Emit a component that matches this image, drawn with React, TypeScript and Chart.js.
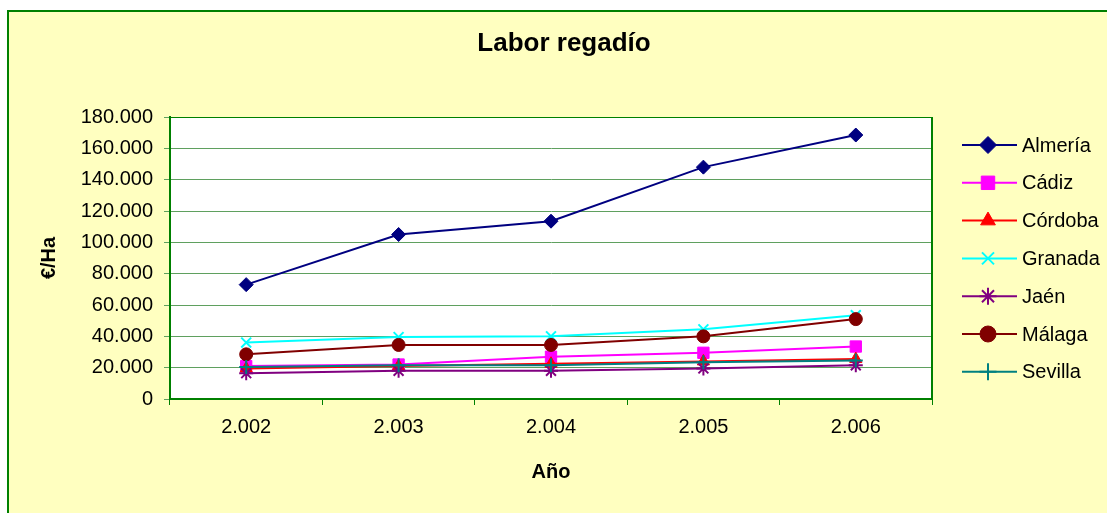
import React, { useEffect, useRef } from "react";
import { Chart, registerables } from "chart.js";
import { drawPoint } from "chart.js/helpers";

Chart.register(...registerables);

const years = ["2.002", "2.003", "2.004", "2.005", "2.006"];
const almeria = [73000, 105000, 113500, 148000, 168500];
const cadiz = [21000, 22000, 27000, 29500, 33500];
const cordoba = [19500, 21000, 22500, 24000, 25500];
const granada = [36000, 39500, 40000, 44500, 53500];
const jaen = [16500, 18000, 18000, 19500, 21500];
const malaga = [28500, 34500, 34500, 40000, 51000];
const sevilla = [20500, 21500, 21500, 23500, 24500];

const seriesNames = ["Almería", "Cádiz", "Córdoba", "Granada", "Jaén", "Málaga", "Sevilla"];
const seriesValues = [almeria, cadiz, cordoba, granada, jaen, malaga, sevilla];
const seriesColors = ["#000080", "#FF00FF", "#FF0000", "#00FFFF", "#800080", "#800000", "#008080"];
const seriesMarkers = ["rectRot", "rect", "triangle", "crossRot", "star", "circle", "cross"];
const markerSizes = [7, 8, 7, 7, 7, 6.5, 7];

const chartTitle = "Labor regadío";
const yTitle = "€/Ha";
const xTitle = "Año";
const FONT = "'Liberation Sans', Arial, sans-serif";

const fmt = (v: number) => String(Math.round(v)).replace(/\B(?=(\d{3})+(?!\d))/g, ".");

export default function App() {
  const ref = useRef<HTMLCanvasElement | null>(null);
  useEffect(() => {
    const canvas = ref.current;
    if (!canvas) return;
    const plotDecor = {
      id: "plotDecor",
      beforeDraw(chart: any) {
        const { ctx, chartArea: a } = chart;
        ctx.save();
        ctx.fillStyle = "#FFFFFF";
        ctx.fillRect(a.left, a.top, a.right - a.left, a.bottom - a.top);
        ctx.restore();
      },
      beforeDatasetsDraw(chart: any) {
        const { ctx, chartArea: a } = chart;
        ctx.save();
        ctx.strokeStyle = "#008000";
        ctx.lineWidth = 1;
        ctx.beginPath();
        ctx.moveTo(a.left, a.top + 0.5);
        ctx.lineTo(a.right, a.top + 0.5);
        ctx.stroke();
        ctx.lineWidth = 2;
        ctx.beginPath();
        ctx.moveTo(a.right, a.top);
        ctx.lineTo(a.right, a.bottom);
        ctx.stroke();
        ctx.restore();
      },
      afterDraw(chart: any) {
        const { ctx } = chart;
        ctx.save();
        ctx.fillStyle = "#000000";
        ctx.font = `bold 26px ${FONT}`;
        ctx.textAlign = "center";
        ctx.textBaseline = "alphabetic";
        ctx.fillText(chartTitle, 555, 39);
        // legend
        ctx.font = `20px ${FONT}`;
        ctx.textAlign = "left";
        ctx.textBaseline = "middle";
        chart.data.datasets.forEach((ds: any, i: number) => {
          const y = 133 + i * 37.8;
          ctx.strokeStyle = ds.borderColor;
          ctx.lineWidth = 2;
          ctx.beginPath();
          ctx.moveTo(953, y);
          ctx.lineTo(1008, y);
          ctx.stroke();
          ctx.fillStyle = ds.backgroundColor;
          ctx.strokeStyle = ds.borderColor;
          ctx.lineWidth = ds.pointBorderWidth;
          drawPoint(ctx, {
            pointStyle: ds.pointStyle,
            radius: ds.pointRadius + 1.5,
            borderWidth: ds.pointBorderWidth,
            rotation: 0,
          } as any, 979, y);
          ctx.fillStyle = "#000000";
          ctx.fillText(ds.label, 1013, y + 1);
        });
        ctx.restore();
      },
    };

    const datasets = seriesNames.map((name, i) => ({
      label: name,
      data: seriesValues[i],
      borderColor: seriesColors[i],
      backgroundColor: seriesColors[i],
      pointBackgroundColor: seriesColors[i],
      pointBorderColor: seriesColors[i],
      pointStyle: seriesMarkers[i],
      pointRadius: markerSizes[i],
      pointBorderWidth: ["crossRot", "star", "cross"].includes(seriesMarkers[i]) ? 2 : 1,
      borderWidth: 2,
      tension: 0,
      order: seriesNames.length - i,
    }));

    const chart = new Chart(canvas, {
      type: "line",
      data: { labels: years, datasets },
      options: {
        animation: false,
        responsive: false,
        devicePixelRatio: 1,
        layout: { padding: { top: 105, right: 175, bottom: 0, left: 0 } },
        plugins: {
          legend: { display: false },
          title: { display: false },
          tooltip: { enabled: false },
        },
        scales: {
          x: {
            type: "category",
            offset: true,
            afterFit(scale: any) {
              scale.height = 114;
            },
            grid: {
              offset: true,
              drawOnChartArea: false,
              drawTicks: true,
              tickLength: 6,
              color: "#008000",
            },
            border: { color: "#008000", width: 2 },
            ticks: {
              color: "#000000",
              font: { family: FONT, size: 20 },
              padding: 10,
              maxRotation: 0,
            },
            title: {
              display: true,
              text: xTitle,
              color: "#000000",
              font: { family: FONT, size: 20, weight: "bold" },
              padding: { top: 0, bottom: 29 },
            },
          },
          y: {
            min: 0,
            max: 180000,
            afterFit(scale: any) {
              scale.width = 161;
            },
            grid: {
              color: "#5FA05F",
              drawTicks: true,
              tickLength: 6,
              lineWidth: 1,
            },
            border: { color: "#008000", width: 2 },
            ticks: {
              stepSize: 20000,
              color: "#000000",
              font: { family: FONT, size: 20 },
              padding: 11,
              callback: (v: any) => fmt(Number(v)),
            },
            title: {
              display: true,
              text: yTitle,
              color: "#000000",
              font: { family: FONT, size: 20, weight: "bold" },
              padding: { top: 28, bottom: 0 },
            },
          },
        },
      },
      plugins: [plotDecor],
    } as any);
    return () => chart.destroy();
  }, []);

  return (
    <div
      style={{
        position: "absolute",
        left: 7,
        top: 10,
        width: 1100,
        height: 503,
        boxSizing: "border-box",
        borderTop: "2px solid #008000",
        borderLeft: "2px solid #008000",
        background: "#FFFFC0",
      }}
    >
      <canvas ref={ref} width={1098} height={501} style={{ display: "block" }} />
    </div>
  );
}
